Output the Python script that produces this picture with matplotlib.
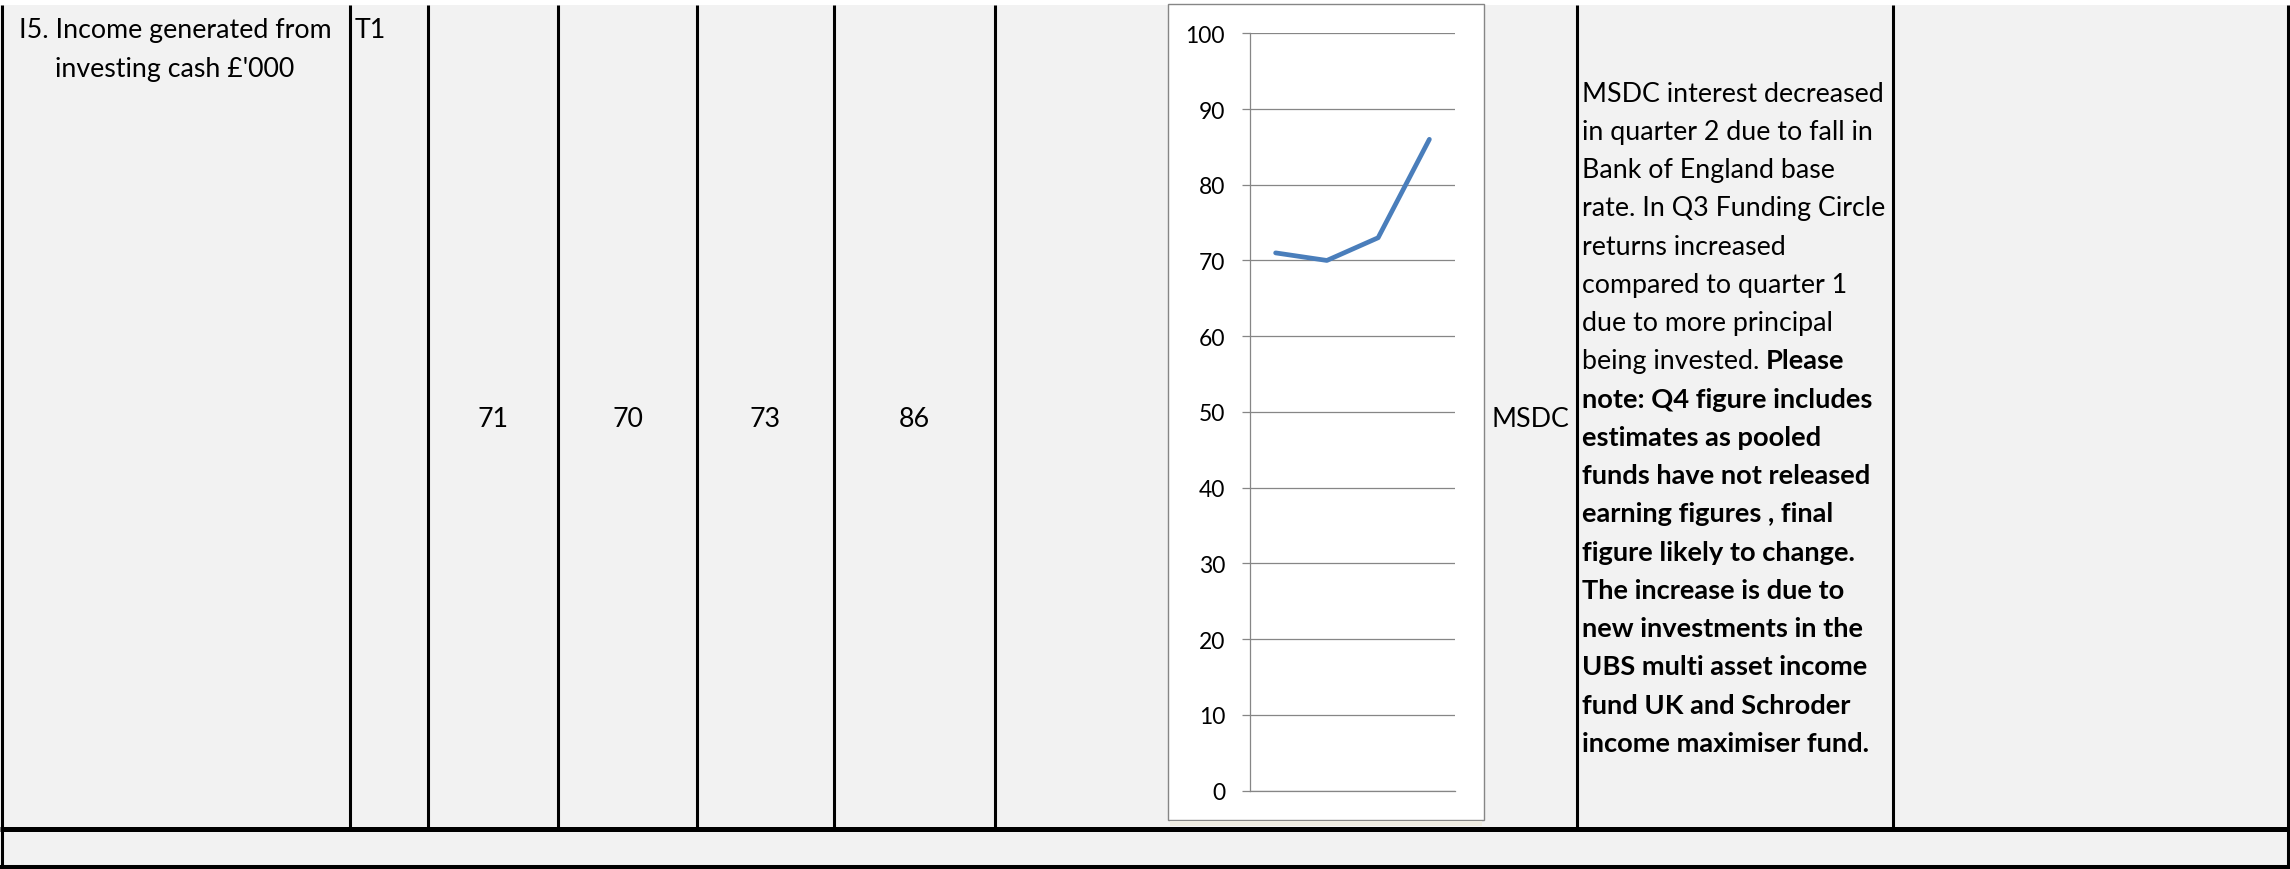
import matplotlib
matplotlib.use("Agg")
import matplotlib.pyplot as plt
from matplotlib.patches import Rectangle

plt.rcParams['font.family'] = ['Lato', 'DejaVu Sans']

# ---------------- data ----------------
quarters = ["Q1", "Q2", "Q3", "Q4"]
values = [71, 70, 73, 86]
yticks = [0, 10, 20, 30, 40, 50, 60, 70, 80, 90, 100]
indicator_lines = ["I5. Income generated from", "investing cash £'000"]
target_label = "T1"
owner_label = "MSDC"
comment_lines = [
    [("MSDC interest decreased", False)],
    [("in quarter 2 due to fall in", False)],
    [("Bank of England base", False)],
    [("rate. In Q3 Funding Circle", False)],
    [("returns increased", False)],
    [("compared to quarter 1", False)],
    [("due to more principal", False)],
    [("being invested.", False), ("Please", True)],
    [("note: Q4 figure includes", True)],
    [("estimates as pooled", True)],
    [("funds have not released", True)],
    [("earning figures , final", True)],
    [("figure likely to change.", True)],
    [("The increase is due to", True)],
    [("new investments in the", True)],
    [("UBS multi asset income", True)],
    [("fund UK and Schroder", True)],
    [("income maximiser fund.", True)],
]

# ---------------- layout ----------------
W, H = 2290, 870
fig = plt.figure(figsize=(W / 100, H / 100), dpi=100)
fig.patch.set_facecolor('#F2F2F2')
ax0 = fig.add_axes([0, 0, 1, 1])
ax0.set_xlim(0, W)
ax0.set_ylim(H, 0)
ax0.axis('off')

FS = 19.3
FS_BOLD = 19.6
BLACK = 'black'

# white strip on top
ax0.add_patch(Rectangle((0, 0), W, 5.5, facecolor='white', edgecolor='none', zorder=1))

# vertical cell borders of the main row
col_x = [1.5, 350, 428, 558, 697, 834, 995, 1577, 1893, 2287.5]
ax0.vlines(col_x, 5.5, 829, colors=BLACK, linewidth=2.2, zorder=3)
# horizontal borders
ax0.hlines(829.5, 0, W, colors=BLACK, linewidth=3.6, zorder=3)
ax0.hlines(868, 0, W, colors=BLACK, linewidth=2.9, zorder=3)
ax0.vlines([1.5, 2287.5], 829, 870, colors=BLACK, linewidth=2.2, zorder=3)

# chart frame
ax0.add_patch(Rectangle((1167.5, 5), 316.5, 816, facecolor='white',
                        edgecolor='#868686', linewidth=1.0, zorder=2))
ax0.add_patch(Rectangle((1170, 821.5), 312, 5.5, facecolor='#EEECE1',
                        edgecolor='none', zorder=2))

# ---------------- texts ----------------
ax0.text(175, 38.3, indicator_lines[0], fontsize=FS, ha='center', va='baseline', color=BLACK)
ax0.text(175, 76.5, indicator_lines[1], fontsize=FS, ha='center', va='baseline', color=BLACK)
ax0.text(355, 38.3, target_label, fontsize=FS, ha='left', va='baseline', color=BLACK)

cell_centers = [(col_x[i] + col_x[i + 1]) / 2 for i in range(2, 6)]
for cx, v in zip(cell_centers, values):
    ax0.text(cx, 427, str(v), fontsize=FS, ha='center', va='baseline', color=BLACK)

ax0.text(1492, 427, owner_label, fontsize=FS, ha='left', va='baseline', color=BLACK)

renderer = fig.canvas.get_renderer()


def text_width(s, bold):
    t = ax0.text(0, 0, s, fontsize=FS_BOLD if bold else FS,
                 fontweight='bold' if bold else 'normal')
    w = t.get_window_extent(renderer).width
    t.remove()
    return w


space_w = text_width("x x", False) - text_width("xx", False)

y0, dy = 101.7, 38.24
for i, segs in enumerate(comment_lines):
    x = 1582
    y = y0 + i * dy
    for s, bold in segs:
        t = ax0.text(x, y, s, fontsize=FS_BOLD if bold else FS, ha='left',
                     va='baseline', color=BLACK,
                     fontweight='bold' if bold else 'normal')
        x += t.get_window_extent(renderer).width + space_w

# ---------------- chart ----------------
y_zero, y_hundred = 791.5, 34.3
left, right = 1250, 1455
ax = fig.add_axes([left / W, (H - y_zero) / H, (right - left) / W, (y_zero - y_hundred) / H])
ax.patch.set_visible(False)
ax.plot(range(len(quarters)), values, color='#4A7EBB', linewidth=3.4,
        solid_capstyle='round', solid_joinstyle='round', zorder=3)
ax.set_xlim(-0.5, len(quarters) - 0.5)
ax.set_ylim(0, 100)
ax.set_yticks(yticks)
ax.set_yticklabels([str(t) for t in yticks])
ax.set_xticks([])
ax.yaxis.grid(True, color='#868686', linewidth=0.9)
ax.set_axisbelow(True)
for s in ['top', 'right']:
    ax.spines[s].set_visible(False)
for s in ['left', 'bottom']:
    ax.spines[s].set_color('#868686')
    ax.spines[s].set_linewidth(0.9)
ax.tick_params(axis='y', direction='out', length=6, width=0.9, color='#868686',
               labelsize=16.5, labelcolor='black', pad=12)

fig.savefig('out.png', dpi=100, facecolor=fig.get_facecolor())
